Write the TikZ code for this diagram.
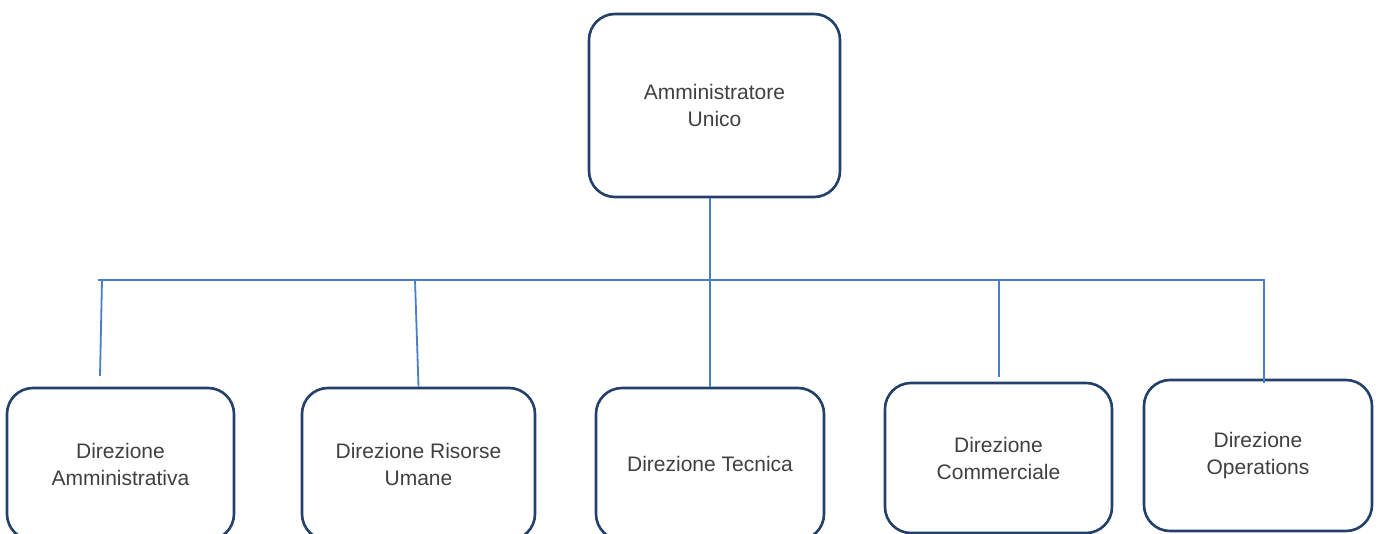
\documentclass[tikz,border=0pt]{standalone}
\usepackage{fontspec}
\setmainfont{Liberation Sans}
\definecolor{boxline}{HTML}{23406A}
\definecolor{conn}{HTML}{4A7EC7}
\definecolor{txt}{HTML}{404040}
\begin{document}
\begin{tikzpicture}[x=1pt,y=-1pt,
  orgbox/.style={draw=boxline, line width=2.6pt, rounded corners=26pt, fill=white,
    text=txt, align=center, inner sep=0pt,
    font=\fontsize{21}{27}\selectfont},
  link/.style={draw=conn, line width=1.8pt}]
\useasboundingbox (0,0) rectangle (1378,534);
\clip (0,0) rectangle (1378,534);
\fill[white] (0,0) rectangle (1378,534);
% nodes
\node[orgbox, minimum width=251pt, minimum height=183pt] (top) at (714.5,105.5) {Amministratore\\Unico};
\node[orgbox, minimum width=227pt, minimum height=152pt] (b1) at (120.5,464) {Direzione\\Amministrativa};
\node[orgbox, minimum width=233pt, minimum height=152pt] (b2) at (418.5,464) {Direzione Risorse\\Umane};
\node[orgbox, minimum width=228pt, minimum height=152pt] (b3) at (710,464) {Direzione Tecnica};
\node[orgbox, minimum width=227pt, minimum height=150pt] (b4) at (998.5,458) {Direzione\\Commerciale};
\node[orgbox, minimum width=228pt, minimum height=151pt] (b5) at (1258,455.5) {Direzione\\Operations};
% bus coordinates
\coordinate (busL) at (98,280);
\coordinate (busR) at (1264,280);
\coordinate (d1a) at (102,280);
\coordinate (d1b) at (100,376);
\coordinate (d2a) at (415,280);
\coordinate (d4a) at (999,280);
\coordinate (d4b) at (999,377);
\coordinate (d5b) at (1264,383);
% connectors
\draw[link] (busL) -- (busR) -- (d5b);
\draw[link] (top.south -| b3.north) -- (b3.north);
\draw[link] (d1a) -- (d1b);
\draw[link] (d2a) -- (b2.north);
\draw[link] (d4a) -- (d4b);
\end{tikzpicture}
\end{document}
